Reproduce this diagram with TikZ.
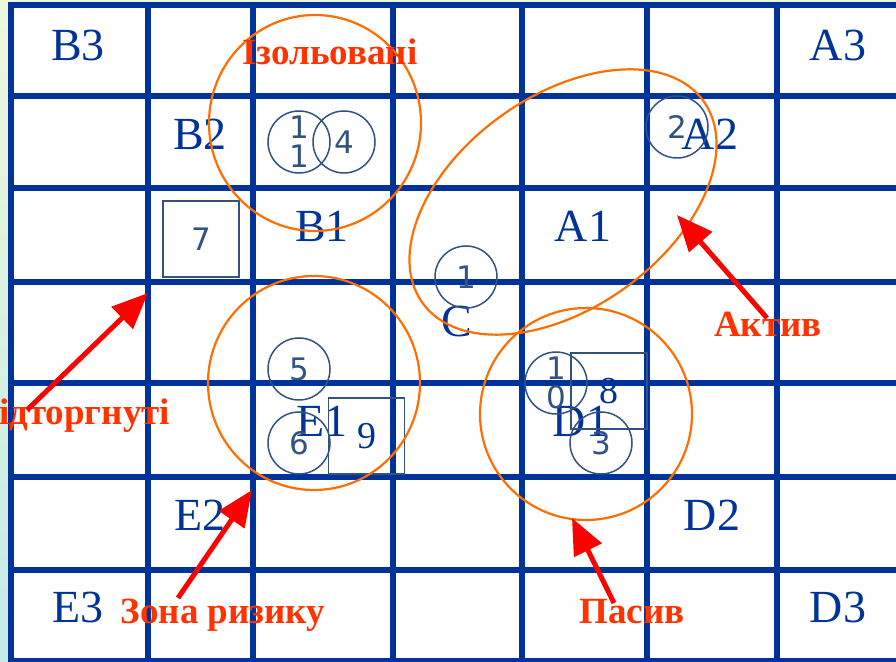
\documentclass[tikz,border=0pt]{standalone}
\usepackage{fontspec}
\setmainfont{Liberation Serif}
\newfontfamily\numfont{DejaVu Sans}
\usetikzlibrary{arrows.meta}
\definecolor{gridblue}{RGB}{0,51,153}
\definecolor{ringslate}{RGB}{50,82,130}
\definecolor{zoneorange}{RGB}{255,110,0}
\definecolor{notered}{RGB}{255,51,0}
\definecolor{bgtop}{RGB}{238,247,220}
\definecolor{bgbot}{RGB}{197,234,232}
\tikzset{
  mxgrid/.style={line width=5.4pt, draw=gridblue, line cap=butt},
  mxcell/.style={font=\fontsize{46}{48}\selectfont, text=gridblue, inner sep=0pt, anchor=base},
  mxring/.style={circle, draw=ringslate, line width=1.5pt, minimum size=62pt, inner sep=0pt, text=ringslate, align=center, font=\numfont\fontsize{31}{29}\selectfont},
  mxbox/.style={rectangle, draw=ringslate, line width=1.5pt, minimum size=76pt, inner sep=0pt, text=ringslate, font=\numfont\fontsize{31}{29}\selectfont},
  mxbig/.style={text=gridblue, font=\fontsize{38}{40}\selectfont},
  mxzone/.style={draw=zoneorange, line width=2.2pt},
  mxarrow/.style={draw=red, line width=5pt, -{Triangle[length=36pt,width=30pt]}},
  mxnote/.style={font=\bfseries\fontsize{37}{40}\selectfont, text=notered, inner sep=0pt, anchor=base},
}

\begin{document}
\begin{tikzpicture}[x=1pt,y=1pt]
\useasboundingbox (0,0) rectangle (896,661);
\shade[top color=bgtop, bottom color=bgbot] (0,0) rectangle (896,661);
\fill[white] (11,0) rectangle (896,656);
% grid
\draw[mxgrid] (8.3,656) -- (896,656);
\draw[mxgrid] (8.3,565) -- (896,565);
\draw[mxgrid] (8.3,473) -- (896,473);
\draw[mxgrid] (8.3,379) -- (896,379);
\draw[mxgrid] (8.3,278) -- (896,278);
\draw[mxgrid] (8.3,184) -- (896,184);
\draw[mxgrid] (8.3,91) -- (896,91);
\draw[mxgrid] (8.3,0.5) -- (896,0.5);
\draw[mxgrid] (11,0) -- (11,658.7);
\draw[mxgrid] (148,0) -- (148,658.7);
\draw[mxgrid] (253,0) -- (253,658.7);
\draw[mxgrid] (393,0) -- (393,658.7);
\draw[mxgrid] (522,0) -- (522,658.7);
\draw[mxgrid] (647,0) -- (647,658.7);
\draw[mxgrid] (777,0) -- (777,658.7);
% cell names
\node[mxcell] (cB3) at (78,600) {B3};
\node[mxcell] (cA3) at (838,600) {A3};
\node[mxcell] (cB2) at (200,511) {B2};
\node[mxcell] (cA2) at (710,511) {A2};
\node[mxcell] (cB1) at (322,419) {B1};
\node[mxcell] (cA1) at (583,419) {A1};
\node[mxcell] (cC) at (457,324) {C};
\node[mxcell] (cE1) at (322,224) {E1};
\node[mxcell] (cD1) at (581,224) {D1};
\node[mxcell] (cE2) at (200,130) {E2};
\node[mxcell] (cD2) at (712,130) {D2};
\node[mxcell] (cE3) at (78,39) {E3};
\node[mxcell] (cD3) at (838,39) {D3};
% firms
\node[mxring] (r11) at (299,519) {1\\1};
\node[mxring] (r4) at (344,519) {4};
\node[mxring] (r2) at (677,534) {2};
\node[mxring] (r1) at (466,384) {1};
\node[mxring] (r5) at (299,292) {5};
\node[mxring] (r6) at (299,218) {6};
\node[mxring] (r10) at (556,278) {1\\0};
\node[mxring] (r3) at (601,218) {3};
\node[mxbox] (q7) at (201,422) {7};
\node[mxbox, mxbig] (q9) at (366.5,225) {9};
\node[mxbox, mxbig] (q8) at (609,270) {8};
% zones
\draw[mxzone] (315,538) ellipse [x radius=106pt, y radius=108pt];
\draw[mxzone] (314,278) ellipse [x radius=106pt, y radius=107pt];
\draw[mxzone] (586,247) ellipse [x radius=106pt, y radius=106pt];
\draw[mxzone, rotate around={35.7:(563,459)}] (563,459) ellipse [x radius=173pt, y radius=106pt];
% labels and arrows
\node[mxnote] (nIzol) at (330,596) {Ізольовані};
\node[mxnote] (nAktiv) at (768,324) {Актив};
\node[mxnote] (nPasiv) at (632,38) {Пасив};
\node[mxnote] (nZona) at (223,38) {Зона ризику};
\node[mxnote, anchor=base west] (nVidt) at (-1,236) {ідторгнуті};
\coordinate (tVidt) at (27,251);
\coordinate (hVidt) at (148,368);
\coordinate (tZona) at (178,63);
\coordinate (hZona) at (252,171);
\coordinate (tPasiv) at (614,58);
\coordinate (hPasiv) at (572,143);
\coordinate (tAktiv) at (767,343);
\coordinate (hAktiv) at (677,446);
\draw[mxarrow] (tVidt) -- (hVidt);
\draw[mxarrow] (tZona) -- (hZona);
\draw[mxarrow] (tPasiv) -- (hPasiv);
\draw[mxarrow] (tAktiv) -- (hAktiv);
\end{tikzpicture}
\end{document}
